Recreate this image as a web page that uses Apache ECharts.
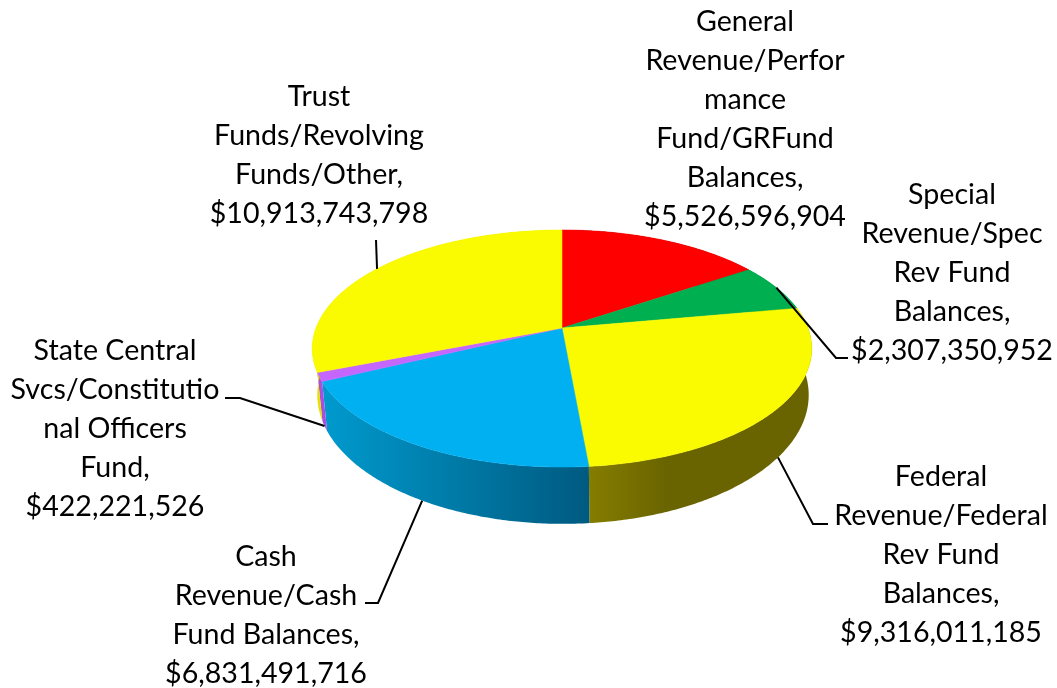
<!DOCTYPE html>
<html lang="en">
<head>
    <meta charset="UTF-8">
    <title>Fund balances 3D pie</title>
    <script src="https://cdn.jsdelivr.net/npm/echarts@6/dist/echarts.min.js"></script>
    <style>
        html,body{margin:0;padding:0;background:#fff}
        #my{width:1057px;height:688px}
    </style>
</head>
<body>
<div id="my"></div>
<script>
    // data, clockwise from 12 o'clock
    var categories=[
        'General\nRevenue/Perfor\nmance\nFund/GRFund\nBalances,',
        'Special\nRevenue/Spec\nRev Fund\nBalances,',
        'Federal\nRevenue/Federal\nRev Fund\nBalances,',
        'Cash\nRevenue/Cash\nFund Balances,',
        'State Central\nSvcs/Constitutio\nnal Officers\nFund,',
        'Trust\nFunds/Revolving\nFunds/Other,'
    ]
    var values=[5526596904,2307350952,9316011185,6831491716,422221526,10913743798]

    // colours
    var topColors=['#ff0000','#00b050','#fafa00','#00b0f0','#c566ff','#fafa00']
    var wallColors=[
        ['#800000','#800000'],
        ['#005828','#005828'],
        ['#857d00','#696400','#696400'],
        ['#009ace','#005a80'],
        ['#a64fe0','#a64fe0'],
        ['#e6e000','#e6e000']
    ]

    // label layout: text centre x, first line top y, leader elbow and end
    var labelBoxes=[
        {x:745,y:2},
        {x:952,y:175,elbow:[836,358],end:[848,358]},
        {x:941,y:457,elbow:[813,524],end:[828,524]},
        {x:266,y:537,elbow:[378,603],end:[365,603]},
        {x:115,y:331,elbow:[240,398],end:[225,398]},
        {x:319,y:77,elbow:[376,240]}
    ]

    // perspective of the two discs
    var topDisc={cx:562,cy:328,a:246,k:115,p:0.173}
    var baseDisc={cx:563,cy:372.7,a:242,k:125,p:0.173}

    var total=0
    var starts=[]
    for (var i=0;i<values.length;i++){
        starts.push(total)
        total+=values[i]
    }
    function angleOf(v){
        return v/total*Math.PI*2
    }
    function project(disc,t){
        var u=Math.sin(t)
        var v=-Math.cos(t)
        var d=1-disc.p*v
        return [disc.cx+disc.a*u/d,disc.cy+disc.k*v/d]
    }
    function arc(disc,t0,t1){
        var pts=[]
        var n=Math.max(2,Math.ceil((t1-t0)/0.01))
        for (var i=0;i<=n;i++){
            pts.push(project(disc,t0+(t1-t0)*i/n))
        }
        return pts
    }
    function range(i,val){
        var t0=angleOf(starts[i])
        return [t0,t0+angleOf(val)]
    }
    function money(v){
        return '$'+v.toLocaleString('en-US')
    }

    function renderWall(params,api){
        var i=params.dataIndex
        var r=range(i,api.value(0))
        var pts=arc(topDisc,r[0],r[1]).concat(arc(baseDisc,r[0],r[1]).reverse())
        var c=wallColors[i]
        var stops=[]
        for (var s=0;s<c.length;s++){
            stops.push({offset:c.length==3&&s==1?0.35:s/(c.length-1),color:c[s]})
        }
        return {
            type:'polygon',
            shape:{points:pts},
            style:{fill:new echarts.graphic.LinearGradient(0,0,1,0,stops)}
        }
    }
    function renderTop(params,api){
        var i=params.dataIndex
        var r=range(i,api.value(0))
        var pts=[[topDisc.cx,topDisc.cy]].concat(arc(topDisc,r[0],r[1]))
        return {
            type:'polygon',
            shape:{points:pts},
            style:{fill:topColors[i],stroke:topColors[i],lineWidth:0.5}
        }
    }
    function renderLabel(params,api){
        var i=params.dataIndex
        var val=api.value(0)
        var box=labelBoxes[i]
        var children=[]
        if (box.elbow){
            var r=range(i,val)
            var mid=(r[0]+r[1])/2
            // the leaders of slices on the near side start at the base of the wall
            var onBase=Math.cos(mid)<0
            var line=[project(onBase?baseDisc:topDisc,mid),box.elbow]
            if (box.end) line.push(box.end)
            children.push({
                type:'polyline',
                shape:{points:line},
                style:{fill:null,stroke:'#000',lineWidth:2}
            })
        }
        children.push({
            type:'text',
            x:box.x,
            y:box.y,
            style:{
                text:categories[i]+'\n'+money(val),
                fontFamily:'Lato',
                fontSize:28.6,
                lineHeight:39,
                fill:'#000',
                align:'center',
                verticalAlign:'top'
            }
        })
        return {type:'group',children:children}
    }

    var mCharts=echarts.init(document.getElementById('my'))
    var option={
        backgroundColor:'#fff',
        animation:false,
        series:[
            {type:'custom',coordinateSystem:'none',data:values,renderItem:renderWall,silent:true,z:1},
            {type:'custom',coordinateSystem:'none',data:values,renderItem:renderTop,silent:true,z:2},
            {type:'custom',coordinateSystem:'none',data:values,renderItem:renderLabel,silent:true,z:3}
        ]
    }
    mCharts.setOption(option)

    window.onresize=function (){
        mCharts.resize()
    }
</script>
</body>
</html>
